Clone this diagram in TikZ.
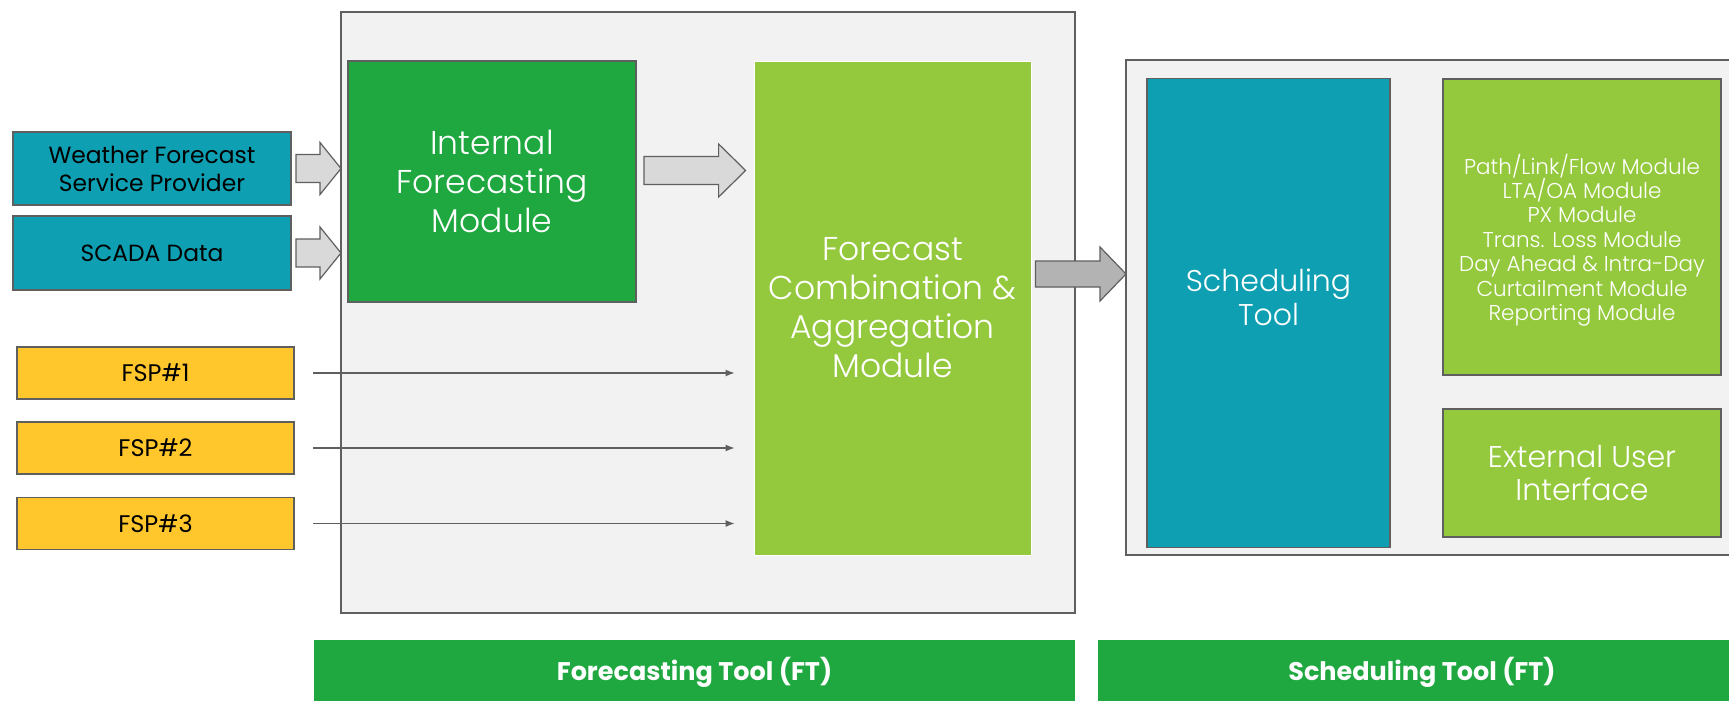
\documentclass[tikz,border=0pt]{standalone}
\usepackage{fontspec}
\setmainfont{Poppins}
\newfontfamily\lightfont{Poppins Light}
\usetikzlibrary{calc,arrows.meta}

\definecolor{tealblue}{HTML}{0E9FB2}
\definecolor{darkgreen}{HTML}{1EA83F}
\definecolor{leafgreen}{HTML}{95C93D}
\definecolor{fspyellow}{HTML}{FFC72C}
\definecolor{panelgray}{HTML}{F2F2F2}
\definecolor{edgegray}{HTML}{5F5F5F}
\definecolor{arrowgray}{HTML}{D9D9D9}
\definecolor{arrowdark}{HTML}{B3B3B3}

% fat arrow: start, tip, shaft half, head half, head length, fill
\newcommand{\blockarrow}[6]{%
  \draw[edgegray, line width=1.2pt, fill=#6, line join=miter]
    ($(#1)+(0,-#3)$) -- ($(#2)+(-#5,-#3)$) -- ($(#2)+(-#5,-#4)$) -- (#2)
    -- ($(#2)+(-#5,#4)$) -- ($(#2)+(-#5,#3)$) -- ($(#1)+(0,#3)$) -- cycle;}

\begin{document}
\begin{tikzpicture}[x=1pt,y=-1pt,
    box/.style={rectangle, draw=edgegray, line width=1.5pt, inner sep=2pt, outer sep=0pt, align=center},
    inbox/.style={box, fill=tealblue, font=\fontsize{23.4}{28}\selectfont},
    fspbox/.style={box, fill=fspyellow, font=\fontsize{24}{28}\selectfont},
    bigtext/.style={text=white, align=center, font=\lightfont\fontsize{33}{39}\selectfont},
    bar/.style={rectangle, fill=darkgreen, text=white, outer sep=0pt, font=\bfseries\fontsize{25.5}{30}\selectfont},
    feed/.style={edgegray, line width=1.3pt, -{Latex[length=9pt,width=7pt]}, shorten <=19pt, shorten >=19pt}]
  \useasboundingbox (0,0) rectangle (1729,701);

  % panels
  \node[box, fill=panelgray, minimum width=734, minimum height=601] (ftpanel) at (708,312.5) {};
  \node[box, fill=panelgray, minimum width=619, minimum height=495] (schpanel) at (1435.5,307.5) {};

  % inputs
  \node[inbox, minimum width=278, minimum height=73] (wfsp) at (152,168.5) {Weather Forecast\\Service Provider};
  \node[inbox, minimum width=278, minimum height=74] (scada) at (152,253) {SCADA Data};
  \node[fspbox, minimum width=277, minimum height=52] (fsp1) at (155.5,373) {FSP\#1};
  \node[fspbox, minimum width=277, minimum height=52] (fsp2) at (155.5,448) {FSP\#2};
  \node[fspbox, minimum width=277, minimum height=52] (fsp3) at (155.5,523.5) {FSP\#3};

  % forecasting tool
  \node[box, fill=darkgreen, minimum width=288, minimum height=241, bigtext] (ifm) at (492,181.5) {Internal\\Forecasting\\Module};
  \node[rectangle, draw=white, line width=0.8pt, fill=leafgreen, minimum width=277, minimum height=494, bigtext] (fca) at (892.5,308)
    {Forecast\\Combination \&\\Aggregation\\Module};

  % scheduling tool
  \node[box, fill=tealblue, minimum width=243, minimum height=469] (schtool) at (1268.5,313) {};
  \node[bigtext, font=\lightfont\fontsize{30}{34}\selectfont] (schtext) at (1268.5,297) {Scheduling\\Tool};
  \node[box, fill=leafgreen, minimum width=278, minimum height=296] (pathmod) at (1582,227) {};
  \node[bigtext, font=\lightfont\fontsize{21.5}{24.4}\selectfont] (pathtext) at (1582,240)
    {Path/Link/Flow Module\\LTA/OA Module\\PX Module\\Trans. Loss Module\\Day Ahead \& Intra-Day\\Curtailment Module\\Reporting Module};
  \node[box, fill=leafgreen, minimum width=278, minimum height=128, bigtext, font=\lightfont\fontsize{30}{33}\selectfont] (extui) at (1582,473)
    {External User\\Interface};

  % fat arrows
  \coordinate (a1s) at ([xshift=5]wfsp.east);
  \coordinate (a1e) at (a1s -| ftpanel.west);
  \coordinate (a2s) at ([xshift=5]scada.east);
  \coordinate (a2e) at (a2s -| ftpanel.west);
  \coordinate (a3s) at ([shift={(8,-11)}]ifm.east);
  \coordinate (a3e) at ([xshift=-8]a3s -| fca.west);
  \coordinate (a4s) at ([shift={(4,-34)}]fca.east);
  \coordinate (a4e) at (a4s -| schpanel.west);
  \blockarrow{a1s}{a1e}{14}{26}{21}{arrowgray}
  \blockarrow{a2s}{a2e}{14}{26}{21}{arrowgray}
  \blockarrow{a3s}{a3e}{14}{26.5}{27}{arrowgray}
  \blockarrow{a4s}{a4e}{13}{27}{26}{arrowdark}

  % FSP feeds
  \draw[feed] (fsp1.east) -- (fsp1.east -| fca.west);
  \draw[feed] (fsp2.east) -- (fsp2.east -| fca.west);
  \draw[feed] (fsp3.east) -- (fsp3.east -| fca.west);

  % bottom bars
  \node[bar, minimum width=761, minimum height=64] (ftbar) at (694.5,672) {Forecasting Tool (FT)};
  \node[bar, minimum width=648, minimum height=64] (schbar) at (1422,672) {Scheduling Tool (FT)};
\end{tikzpicture}
\end{document}
